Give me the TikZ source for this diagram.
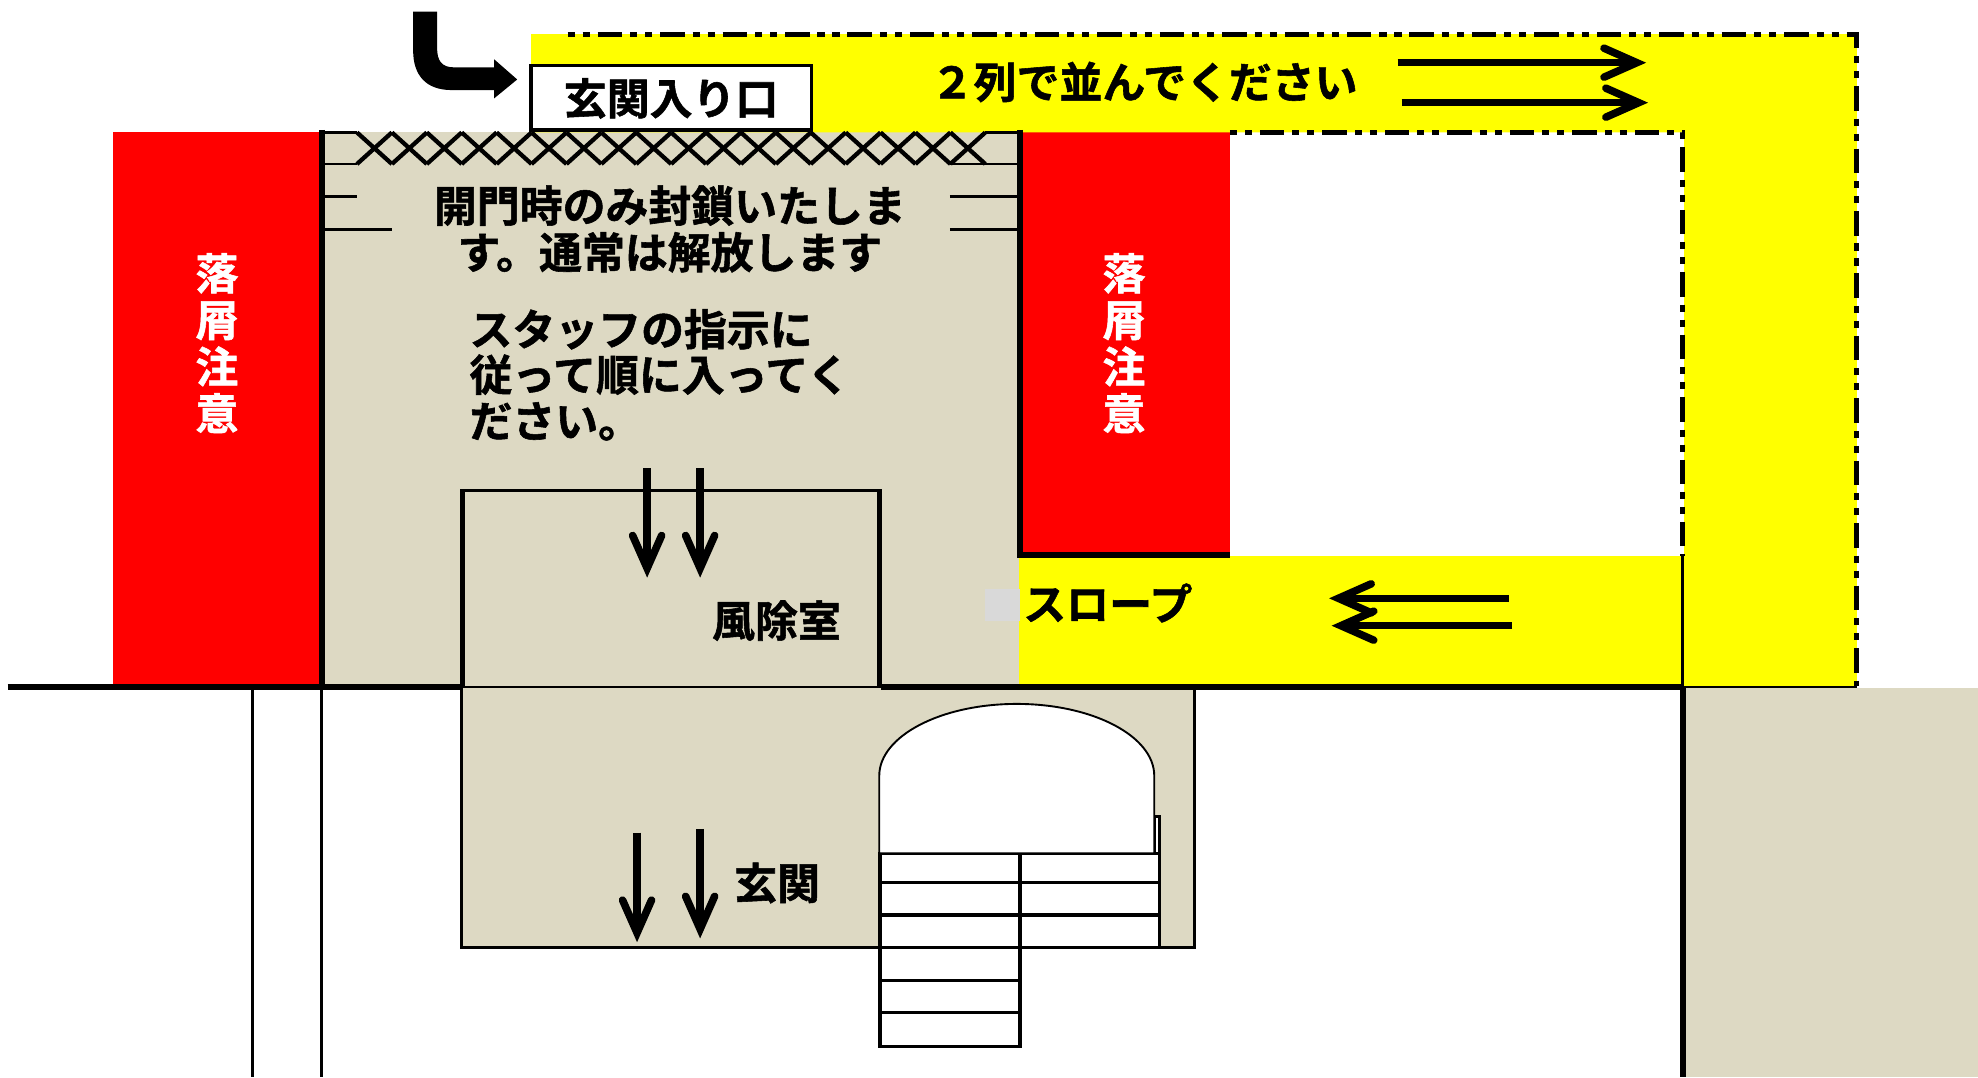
\documentclass[tikz,border=0pt]{standalone}
\usepackage{fontspec}
\setmainfont{Noto Sans CJK JP}[BoldFont=* Bold,BoldFeatures={FakeBold=1.3}]
\usetikzlibrary{calc}
\definecolor{khaki}{HTML}{DDD9C3}
\definecolor{lgrey}{HTML}{D9D9D9}
\definecolor{qyellow}{RGB}{255,255,0}
\definecolor{wred}{RGB}{255,0,0}
\tikzset{
  txt/.style={inner sep=0pt,font=\fontsize{34}{37}\selectfont\bfseries,text=black},
  redtxt/.style={txt,text=white,align=center},
  wall/.style={line width=4.5pt},
  thin wall/.style={line width=2.8pt},
  fine/.style={line width=2.1pt},
  queue/.style={line width=4pt,dash pattern=on 5.6pt off 6.3pt on 5.6pt off 6.3pt on 19.4pt off 6.3pt},
  shaft/.style={line width=6pt},
  barb/.style={line width=6pt,line cap=round,line join=miter,miter limit=10},
  stair/.style={draw=black,fill=white,line width=2.7pt}
}
\newcommand{\flowarrow}[3]{%
  \draw[shaft] (#1) -- (#2);
  \draw[barb,shift={(#2)},rotate=#3] (-26,-11.5) -- (0,0) -- (-26,11.5);
}
\begin{document}
\begin{tikzpicture}[x=1pt,y=-1pt]
\useasboundingbox (0,0) rectangle (1568,853.8);
% fills
\fill[wred] (89.5,105) rectangle (254,544);
\fill[wred] (810,105) rectangle (975,440);
\fill[khaki] (256,105) rectangle (808,544);
\fill[khaki] (366,545) rectangle (947,751);
\fill[khaki] (1336,545) rectangle (1568,853.8);
\fill[qyellow] (421,27) -- (1472,27) -- (1472,544) -- (1335,544) -- (1335,105) -- (421,105) -- cycle;
\fill[qyellow] (808,441) rectangle (1335,542);
\fill[lgrey] (781,467) rectangle (808.5,492);
% queue boundary
\coordinate (q1) at (450,27);
\coordinate (q2) at (1472,27);
\coordinate (q3) at (1472,544);
\coordinate (q4) at (975,105);
\coordinate (q5) at (1333.5,105);
\coordinate (q6) at (1333.5,441);
\draw[queue] (q1) -- (q2) -- (q3);
\draw[queue] (q4) -- (q5) -- (q6);
% walls
\coordinate (w0) at (6,544.5);
\coordinate (w1) at (366,544.5);
\coordinate (w2) at (698,544.5);
\coordinate (w3) at (1335,544.5);
\coordinate (w4) at (1472,544.5);
\draw[wall] (w0) -- (w1);
\draw[fine] (w1) -- (w2);
\draw[wall] (w2) -- (w3);
\draw[fine] (w3) -- (w4);
\draw[wall] (255,103) -- (255,546);
\draw[thin wall] (255,546) -- (255,853.8);
\draw[thin wall] (200,546) -- (200,853.8);
\draw[wall] (808.5,103) -- (808.5,442.2);
\draw[wall] (806.2,440) -- (975,440);
\draw[wall] (1334,544) -- (1334,853.8);
\draw[fine] (1333.5,441) -- (1333.5,544);
% gate
\draw[thin wall] (255,105) -- (283,105);
\draw[thin wall] (781,105) -- (808,105);
\foreach \i in {0,...,17}{
  \draw[line width=3.4pt] ({283+27.67*\i},105) -- ({283+27.67*(\i+1)},130);
  \draw[line width=3.4pt] ({283+27.67*\i},130) -- ({283+27.67*(\i+1)},105);
}
\draw[fine] (257,130) -- (283,130);
\draw[fine] (257,156) -- (283,156);
\draw[fine] (257,182) -- (311,182);
\draw[fine] (753,130) -- (807,130);
\draw[fine] (753,156) -- (807,156);
\draw[fine] (753,182) -- (807,182);
% windbreak room
\draw[line width=3.8pt] (366.5,389) -- (366.5,545);
\draw[line width=3.8pt] (697.5,389) -- (697.5,545);
\draw[fine] (365,389) -- (699,389);
% entrance hall
\draw[thin wall] (366,545) -- (366,751) -- (947,751) -- (947,546);
% stairs
\draw[stair] (808.5,676.5) rectangle (919,699.4);
\draw[stair] (808.5,699.4) rectangle (919,725.4);
\draw[stair] (808.5,725.4) rectangle (919,751);
\draw[stair] (697.6,676.5) rectangle (808.5,699.4);
\draw[stair] (697.6,699.4) rectangle (808.5,725.4);
\draw[stair] (697.6,725.4) rectangle (808.5,751);
\draw[stair] (697.6,751) rectangle (808.5,777.4);
\draw[stair] (697.6,777.4) rectangle (808.5,802.8);
\draw[stair] (697.6,802.8) rectangle (808.5,829.7);
\draw[stair] (915,647.4) rectangle (919,676.5);
% arch
\draw[draw=black,fill=white,line width=1.5pt] (697,676.5) -- (697,615) arc[start angle=180,end angle=360,x radius=109,y radius=57] -- (915,676.5) -- cycle;
% entrance box
\node[draw=black,fill=white,line width=2.6pt,minimum width=222pt,minimum height=51pt,inner sep=0pt] (box) at (532,77.5) {};
\node[txt] (t1) at (532,78) {玄関入り口};
% bent arrow
\fill[black] (327.5,9.3) -- (346.5,9.3) -- (346.5,38) .. controls (346.5,48) and (350,53.4) .. (360,53.4) -- (391.7,53.4) -- (391.7,47) -- (410,63) -- (391.7,78) -- (391.7,71.4) -- (358,71.4) .. controls (338,71.4) and (327.5,60) .. (327.5,40) -- cycle;
% arrows
\coordinate (a1s) at (1108,49.7); \coordinate (a1e) at (1297.5,49.7);
\coordinate (a2s) at (1111,81.4); \coordinate (a2e) at (1299,81.4);
\flowarrow{a1s}{a1e}{0}
\flowarrow{a2s}{a2e}{0}
\coordinate (a3s) at (1196,474.3); \coordinate (a3e) at (1061,474.3);
\coordinate (a4s) at (1198.6,496); \coordinate (a4e) at (1063,496);
\flowarrow{a3s}{a3e}{180}
\flowarrow{a4s}{a4e}{180}
\coordinate (a5s) at (513,371); \coordinate (a5e) at (513,450.5);
\coordinate (a6s) at (555,371); \coordinate (a6e) at (555,450.5);
\coordinate (a7s) at (505,660); \coordinate (a7e) at (505,739.5);
\coordinate (a8s) at (555,657); \coordinate (a8e) at (555,736.5);
\flowarrow{a5s}{a5e}{-90}
\flowarrow{a6s}{a6e}{-90}
\flowarrow{a7s}{a7e}{-90}
\flowarrow{a8s}{a8e}{-90}
% text
\node[txt] (t2) at (907,65) {２列で並んでください};
\node[txt] (t3) at (531,163) {開門時のみ封鎖いたしま};
\node[txt] (t4) at (531,200) {す。通常は解放します};
\node[txt,anchor=west] (t5) at (372,261) {スタッフの指示に};
\node[txt,anchor=west] (t6) at (372,297) {従って順に入ってく};
\node[txt,anchor=west] (t7) at (372,334) {ださい。};
\node[txt] (t8) at (615.5,492) {風除室};
\node[txt] (t9) at (616,700) {玄関};
\node[txt,anchor=west] (t10) at (811,478) {スロープ};
\node[redtxt] (r1) at (172,272) {落\\屑\\注\\意};
\node[redtxt] (r2) at (891,272) {落\\屑\\注\\意};
\end{tikzpicture}
\end{document}
